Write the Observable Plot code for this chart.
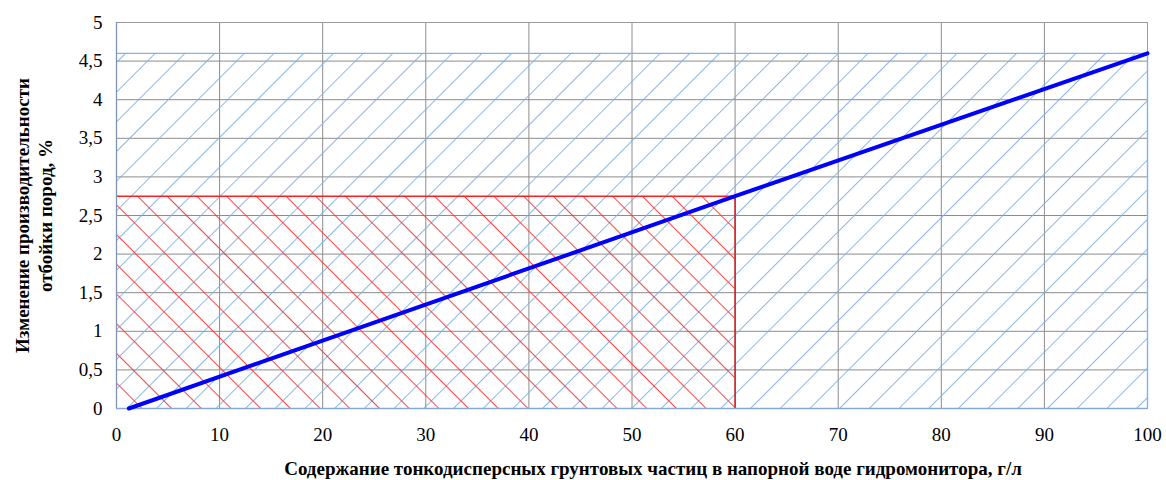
<!DOCTYPE html>
<html>
<head>
<meta charset="utf-8">
<script src="https://cdn.jsdelivr.net/npm/d3@7"></script>
<script src="https://cdn.jsdelivr.net/npm/@observablehq/plot@0.6"></script>
<style>
  html, body { margin: 0; padding: 0; background: #fff; }
  #chart svg { display: block; }
  #chart svg text, #chart svg tspan { font-family: 'Liberation Serif', 'Times New Roman', serif !important; }
</style>
</head>
<body>
<div id="chart"></div>
<script>
// Data
const lineX = [1.2, 60, 100];
const lineY = [0, 2.75, 4.6];
const blueZone = { x1: 0, x2: 100, y1: 0, y2: 4.6 };
const redZone = { x1: 0, x2: 60, y1: 0, y2: 2.75 };
const xTicks = [0, 10, 20, 30, 40, 50, 60, 70, 80, 90, 100];
const yTicks = [0, 0.5, 1, 1.5, 2, 2.5, 3, 3.5, 4, 4.5, 5];
const xLabel = "Содержание тонкодисперсных грунтовых частиц в напорной воде гидромонитора, г/л";
const yLabel = "Изменение производительности\nотбойки пород, %";

const FONT = "'Liberation Serif', 'Times New Roman', serif";
const lineData = lineX.map((x, i) => ({ x, y: lineY[i] }));
const fmt = d => String(d).replace(".", ",");

const chart = Plot.plot({
  width: 1166,
  height: 480,
  marginLeft: 116,
  marginRight: 19,
  marginTop: 22,
  marginBottom: 72,
  style: "font-family: 'Liberation Serif', 'Times New Roman', serif; font-size: 19px; color: #000; background: #fff;",
  x: { domain: [0, 100], ticks: xTicks, tickFormat: fmt, tickSize: 0, tickPadding: 19, label: null },
  y: { domain: [0, 5], ticks: yTicks, tickFormat: fmt, tickSize: 0, tickPadding: 14, label: null },
  marks: [
    Plot.gridX(xTicks, { stroke: "#8c8c8c", strokeOpacity: 1, strokeWidth: 1 }),
    Plot.gridY(yTicks, { stroke: "#8c8c8c", strokeOpacity: 1, strokeWidth: 1 }),
    Plot.frame({ stroke: "#9a9a9a", strokeWidth: 1 }),
    Plot.rect([blueZone], { x1: "x1", x2: "x2", y1: "y1", y2: "y2", fill: "url(#blueHatch)", className: "blue-zone" }),
    Plot.rect([redZone], { x1: "x1", x2: "x2", y1: "y1", y2: "y2", fill: "url(#redHatch)", className: "red-zone" }),
    Plot.ruleY([blueZone], { y: "y2", x1: "x1", x2: "x2", stroke: "#84b3e3", strokeWidth: 1.4 }),
    Plot.ruleX([blueZone], { x: "x2", y1: "y1", y2: "y2", stroke: "#84b3e3", strokeWidth: 1.4 }),
    Plot.ruleY([redZone], { y: "y2", x1: "x1", x2: "x2", stroke: "#ff2020", strokeWidth: 1.5 }),
    Plot.ruleX([redZone], { x: "x2", y1: "y1", y2: "y2", stroke: "#d81818", strokeWidth: 1.5 }),
    Plot.ruleX([0], { stroke: "#7f93b5", strokeWidth: 1.3 }),
    Plot.ruleY([0], { stroke: "#86aad8", strokeWidth: 1.3 }),
    Plot.line(lineData, { x: "x", y: "y", stroke: "#0000ff", strokeWidth: 4, strokeLinecap: "round" }),
    Plot.text([yLabel], { frameAnchor: "left", dx: -83, rotate: -90, text: d => d, fontWeight: "bold", fontSize: 19, lineHeight: 1.2, textAnchor: "middle", lineAnchor: "middle", fill: "#000" }),
    Plot.text([xLabel], { frameAnchor: "bottom", dx: 21, dy: 60, text: d => d, fontWeight: "bold", fontSize: 19, textAnchor: "middle", lineAnchor: "middle", fill: "#000" })
  ]
});

const svg = d3.select(chart);
const defs = svg.insert("defs", ":first-child");
function hatch(id, color, angle, w) {
  const p = defs.append("pattern")
    .attr("id", id)
    .attr("patternUnits", "userSpaceOnUse")
    .attr("width", 21)
    .attr("height", 21)
    .attr("patternTransform", `rotate(${angle})`);
  p.append("line")
    .attr("x1", 0).attr("y1", 0).attr("x2", 0).attr("y2", 21)
    .attr("stroke", color).attr("stroke-width", w);
}
hatch("blueHatch", "#7fb0e2", 45, 1.8);
hatch("redHatch", "#ff2e2e", -45, 1.8);
svg.selectAll(".blue-zone rect").attr("fill", "url(#blueHatch)");
svg.selectAll(".red-zone rect").attr("fill", "url(#redHatch)");

document.getElementById("chart").appendChild(chart);

function applyFonts() {
  const s = d3.select("#chart svg");
  s.attr("font-family", FONT);
  s.selectAll("g[font-family]").attr("font-family", FONT);
  s.selectAll("text").each(function () {
    if (this.style.getPropertyValue("font-family") !== FONT) {
      this.style.setProperty("font-family", FONT, "important");
    }
  });
}
applyFonts();
setTimeout(applyFonts, 0);
requestAnimationFrame(applyFonts);
window.addEventListener("load", applyFonts);
</script>
</body>
</html>
